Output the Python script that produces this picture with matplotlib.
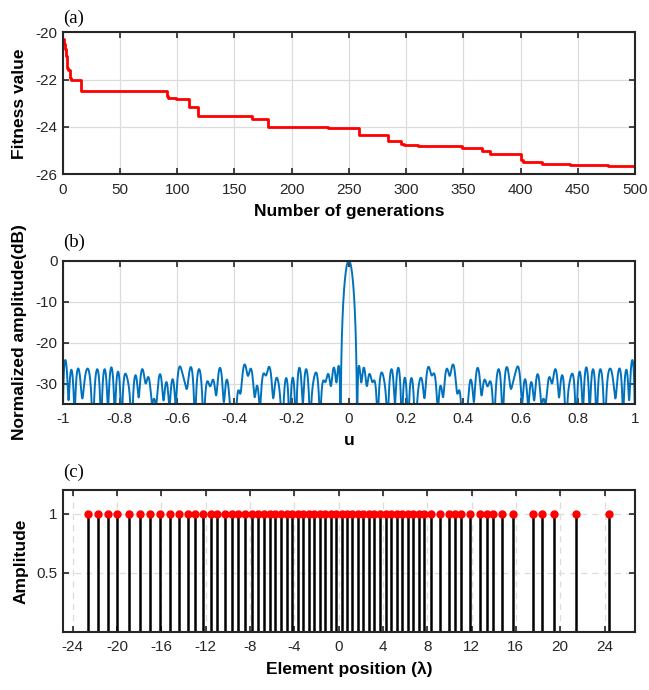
import numpy as np
import matplotlib
matplotlib.use("Agg")
import matplotlib.pyplot as plt

plt.rcParams['font.family'] = ['Liberation Sans', 'DejaVu Sans']
plt.rcParams['axes.unicode_minus'] = False

# (a) convergence curve (best fitness per generation, step changes)
gens = [0, 1, 2, 3, 4, 5, 6, 7, 16, 91, 92, 99, 110, 118, 165, 179, 232, 259,
        284, 296, 298, 310, 349, 366, 373, 400, 402, 419, 443, 449, 476, 500]
fitness = [-20.28, -20.5, -20.7, -21.0, -21.5, -21.6, -21.95, -22.0, -22.47,
           -22.7, -22.79, -22.83, -23.17, -23.55, -23.66, -24.0, -24.03,
           -24.34, -24.58, -24.72, -24.76, -24.8, -24.89, -25.03, -25.15,
           -25.4, -25.48, -25.55, -25.6, -25.62, -25.65, -25.65]

# (c) optimised element positions (in wavelengths), all with amplitude 1
positions = [-22.59, -21.69, -20.84, -19.97, -18.94, -17.95, -17.02, -16.15,
             -15.22, -14.43, -13.62, -12.99, -12.27, -11.52, -10.95, -10.25,
             -9.59, -9.05, -8.42, -7.79, -7.25, -6.73, -6.19, -5.71, -5.20,
             -4.68, -4.21, -3.69, -3.19, -2.70, -2.22, -1.71, -1.20, -0.71,
             -0.21, 0.28, 0.75, 1.25, 1.75, 2.23, 2.74, 3.22, 3.74, 4.25,
             4.73, 5.24, 5.75, 6.24, 6.74, 7.26, 7.73, 8.37, 9.18, 9.94,
             10.51, 11.07, 11.89, 12.73, 13.37, 13.96, 14.77, 15.71, 17.52,
             18.38, 19.44, 21.43, 24.38]
amplitudes = [1.0] * len(positions)

# (b) array factor of the array above
u = np.linspace(-1, 1, 4001)
xn = np.array(positions)
af = np.abs(np.exp(2j * np.pi * np.outer(u, xn)) @ np.array(amplitudes))
pattern_db = 20 * np.log10(af / af.max())

fig = plt.figure(figsize=(6.49, 6.9), dpi=100)
L, W = 0.0966, 0.8818
ax1 = fig.add_axes([L, 0.7474, W, 0.2058])
ax2 = fig.add_axes([L, 0.4145, W, 0.2077])
ax3 = fig.add_axes([L, 0.0841, W, 0.2058])


def style(ax, dashed=False):
    ax.tick_params(direction='in', top=True, right=True, labelsize=11,
                   length=4, width=1.2, color='#262626', labelcolor='#262626')
    ax.tick_params(axis='x', pad=6)
    for s in ax.spines.values():
        s.set_linewidth(1.5)
        s.set_color('#262626')
    ax.grid(True, color='#dcdcdc', linewidth=0.9,
            linestyle=(0, (5, 4)) if dashed else '-')
    ax.set_axisbelow(True)


ax1.plot(gens, fitness, color='red', linewidth=2, drawstyle='steps-post')
ax1.set_xlim(0, 500)
ax1.set_ylim(-26, -20)
ax1.set_xticks(range(0, 501, 50))
ax1.set_yticks([-26, -24, -22, -20])
ax1.set_xlabel('Number of generations', fontsize=12.5, fontweight='bold', labelpad=5)
ax1.set_ylabel('Fitness value', fontsize=12.5, fontweight='bold', labelpad=6)
style(ax1)

ax2.plot(u, pattern_db, color='#0072BD', linewidth=1.4)
ax2.set_xlim(-1, 1)
ax2.set_ylim(-35, 0)
ax2.set_xticks(np.round(np.arange(-1, 1.01, 0.2), 1))
ax2.set_xticklabels(['-1', '-0.8', '-0.6', '-0.4', '-0.2', '0', '0.2', '0.4',
                     '0.6', '0.8', '1'])
ax2.set_yticks([-30, -20, -10, 0])
ax2.set_xlabel('u', fontsize=12.5, fontweight='bold', labelpad=5)
ax2.set_ylabel('Normalized amplitude(dB)', fontsize=12.5, fontweight='bold', labelpad=6)
style(ax2)

markerline, stemlines, baseline = ax3.stem(positions, amplitudes, basefmt=' ')
plt.setp(stemlines, color='black', linewidth=1.8)
plt.setp(markerline, color='red', markersize=5)
ax3.set_xlim(-24.9, 26.75)
ax3.set_ylim(0, 1.2)
ax3.set_xticks(range(-24, 25, 4))
ax3.set_yticks([0.5, 1])
ax3.set_yticklabels(['0.5', '1'])
ax3.set_xlabel('Element position (λ)', fontsize=12.5, fontweight='bold', labelpad=5)
ax3.set_ylabel('Amplitude', fontsize=12.5, fontweight='bold', labelpad=6)
style(ax3, dashed=True)

for lab, y in [('(a)', 0.973), ('(b)', 0.649), ('(c)', 0.316)]:
    fig.text(0.098, y, lab, fontsize=13.5, family='Liberation Serif', ha='left', va='center')

fig.savefig('out.png', dpi=100)
